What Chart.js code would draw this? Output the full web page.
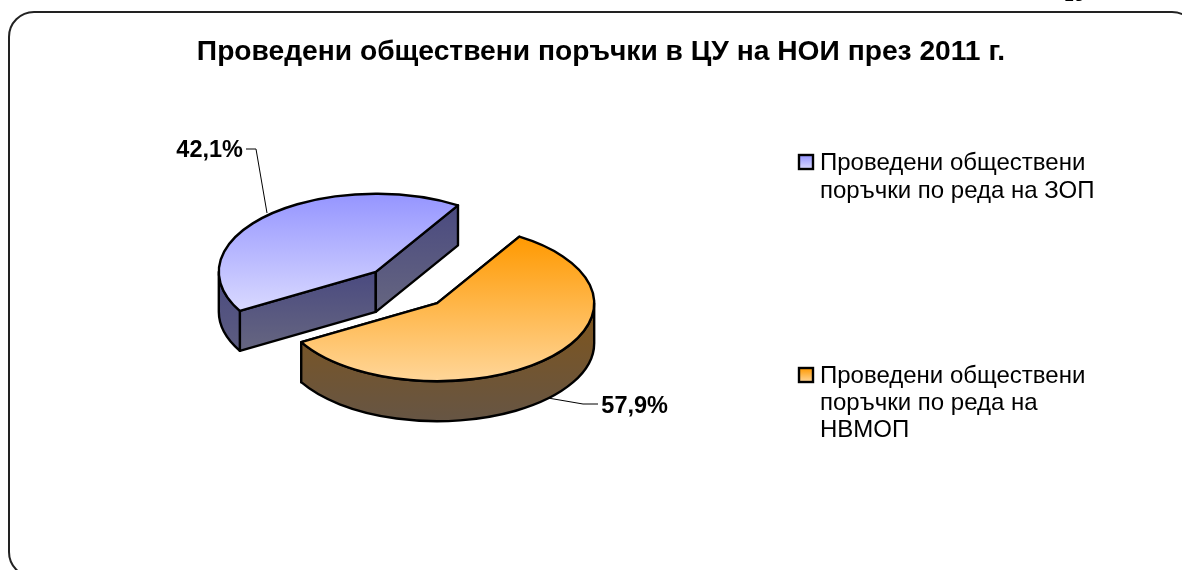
<!DOCTYPE html>
<html lang="bg">
<head>
    <meta charset="UTF-8">
    <title>Проведени обществени поръчки</title>
    <script src="https://cdn.jsdelivr.net/npm/chart.js"></script>
    <style>
        * { margin: 0; padding: 0; }
        body { background: #fff; }
        canvas { display: block; }
    </style>
</head>
<body>
    <canvas id="pieChart" width="1182" height="570"></canvas>
    <script>
        const chartTitle = 'Проведени обществени поръчки в ЦУ на НОИ през 2011 г.';
        const pageNumber = '13';
        const categories = [
            ['Проведени обществени', 'поръчки по реда на ЗОП'],
            ['Проведени обществени', 'поръчки по реда на', 'НВМОП']
        ];
        const shares = [42.1, 57.9];

        // look of the pseudo 3d pie
        const FONT = '"Liberation Sans", Arial, sans-serif';
        const PIE_X = 406.5, PIE_Y = 287.5, RADIUS = 157;
        const FLAT = 0.497;      // squash of the circle into an ellipse
        const DEPTH = 40;
        const EXPLODE = 44;
        const topColors = [['#9595ff', '#d9d9ff'], ['#ff9900', '#ffd699']];
        const topRange = [[-1, 0.5], [-0.86, 1]];
        const sideColors = [['#4a4a80', '#666680'], ['#80551a', '#665544']];
        const legendY = [[170, 198], [383, 410, 437]];
        const valueLabels = [
            { x: 243, y: 157, line: [[246, 149], [256, 149], [267, 213]] },
            { x: 668, y: 413, line: [[598, 404], [583, 404], [548, 398]] }
        ];

        function sideGradient(ctx, i, y0, y1) {
            const g = ctx.createLinearGradient(0, y0, 0, y1);
            g.addColorStop(0, sideColors[i][0]);
            g.addColorStop(1, sideColors[i][1]);
            return g;
        }

        function drawArc3d(ctx, arc, i) {
            const mid = (arc.startAngle + arc.endAngle) / 2;
            const dx = Math.cos(mid) * EXPLODE, dy = Math.sin(mid) * EXPLODE;
            const r = arc.outerRadius;
            const cx = arc.x + dx, cy = PIE_Y + dy * FLAT;
            const px = a => cx + r * Math.cos(a);
            const py = a => cy + r * Math.sin(a) * FLAT;

            ctx.lineWidth = 2.4;
            ctx.lineJoin = 'round';
            ctx.strokeStyle = '#000';

            // cut faces
            [arc.startAngle, arc.endAngle].forEach(a => {
                ctx.beginPath();
                ctx.moveTo(cx, cy);
                ctx.lineTo(px(a), py(a));
                ctx.lineTo(px(a), py(a) + DEPTH);
                ctx.lineTo(cx, cy + DEPTH);
                ctx.closePath();
                ctx.fillStyle = sideGradient(ctx, i, Math.min(cy, py(a)), Math.max(cy, py(a)) + DEPTH);
                ctx.fill();
                ctx.stroke();
            });

            // outer rim, only the front half shows
            for (let k = 0; k < 2; k++) {
                const lo = Math.max(arc.startAngle, 2 * Math.PI * k);
                const hi = Math.min(arc.endAngle, Math.PI + 2 * Math.PI * k);
                if (lo >= hi) continue;
                ctx.beginPath();
                ctx.ellipse(cx, cy, r, r * FLAT, 0, lo, hi);
                ctx.ellipse(cx, cy + DEPTH, r, r * FLAT, 0, hi, lo, true);
                ctx.closePath();
                ctx.fillStyle = sideGradient(ctx, i, cy, cy + r * FLAT + DEPTH);
                ctx.fill();
                ctx.stroke();
            }

            // top face is the real arc element, just squashed
            ctx.save();
            ctx.translate(0, PIE_Y);
            ctx.scale(1, FLAT);
            ctx.translate(dx, dy - arc.y);
            arc.draw(ctx);
            ctx.beginPath();
            ctx.moveTo(arc.x, arc.y);
            ctx.arc(arc.x, arc.y, r, arc.startAngle, arc.endAngle);
            ctx.closePath();
            ctx.restore();
            ctx.stroke();   // outside the transform so the line keeps its width
        }

        const pie3d = {
            id: 'pie3d',
            beforeDraw(chart) {
                const ctx = chart.ctx;
                ctx.save();
                ctx.strokeStyle = '#222';
                ctx.lineWidth = 2;
                ctx.beginPath();
                ctx.roundRect(9, 12, 1188, 565, 25);
                ctx.stroke();
                ctx.restore();
            },
            beforeDatasetDraw(chart, args) {
                const ctx = chart.ctx;
                const arcs = chart.getDatasetMeta(args.index).data;
                ctx.save();
                arcs.forEach((arc, i) => drawArc3d(ctx, arc, i));
                ctx.restore();
                return false;
            },
            afterDraw(chart) {
                const ctx = chart.ctx;
                ctx.save();
                ctx.fillStyle = '#000';
                ctx.textBaseline = 'alphabetic';

                ctx.textAlign = 'left';
                ctx.font = '18px ' + FONT;
                ctx.fillText(pageNumber, 1064, 1);

                ctx.textAlign = 'center';
                ctx.font = 'bold 28.2px ' + FONT;
                ctx.fillText(chartTitle, 601, 60);

                // value labels with leader lines
                ctx.font = 'bold 23.5px ' + FONT;
                ctx.textAlign = 'right';
                ctx.lineWidth = 1;
                ctx.strokeStyle = '#000';
                shares.forEach((v, i) => {
                    const lab = valueLabels[i];
                    ctx.fillText(v.toFixed(1).replace('.', ',') + '%', lab.x, lab.y);
                    ctx.beginPath();
                    lab.line.forEach((p, j) => j ? ctx.lineTo(p[0], p[1]) : ctx.moveTo(p[0], p[1]));
                    ctx.stroke();
                });

                // legend
                ctx.font = '24px ' + FONT;
                ctx.textAlign = 'left';
                ctx.lineWidth = 2.4;
                categories.forEach((lines, i) => {
                    const ys = legendY[i];
                    const g = ctx.createLinearGradient(0, ys[0] - 15, 0, ys[0] - 1);
                    g.addColorStop(0, topColors[i][0]);
                    g.addColorStop(1, topColors[i][1]);
                    ctx.fillStyle = g;
                    ctx.fillRect(799, ys[0] - 15, 14, 14);
                    ctx.strokeRect(799, ys[0] - 15, 14, 14);
                    ctx.fillStyle = '#000';
                    lines.forEach((t, j) => ctx.fillText(t, 820, ys[j]));
                });
                ctx.restore();
            }
        };

        new Chart(document.getElementById('pieChart'), {
            type: 'pie',
            data: {
                labels: categories.map(c => c.join(' ')),
                datasets: [{
                    data: shares,
                    borderWidth: 0,
                    backgroundColor(c) {
                        const area = c.chart.chartArea;
                        if (!area) return topColors[c.dataIndex][0];
                        const mid = (area.top + area.bottom) / 2;
                        const [a, b] = topRange[c.dataIndex];
                        const g = c.chart.ctx.createLinearGradient(0, mid + a * RADIUS, 0, mid + b * RADIUS);
                        g.addColorStop(0, topColors[c.dataIndex][0]);
                        g.addColorStop(1, topColors[c.dataIndex][1]);
                        return g;
                    }
                }]
            },
            options: {
                responsive: false,
                animation: false,
                rotation: 240,
                layout: {
                    padding: { left: PIE_X - RADIUS, right: 1182 - PIE_X - RADIUS, top: 0, bottom: 0 }
                },
                plugins: {
                    legend: { display: false },
                    title: { display: false },
                    tooltip: { enabled: false }
                }
            },
            plugins: [pie3d]
        });
    </script>
</body>
</html>
